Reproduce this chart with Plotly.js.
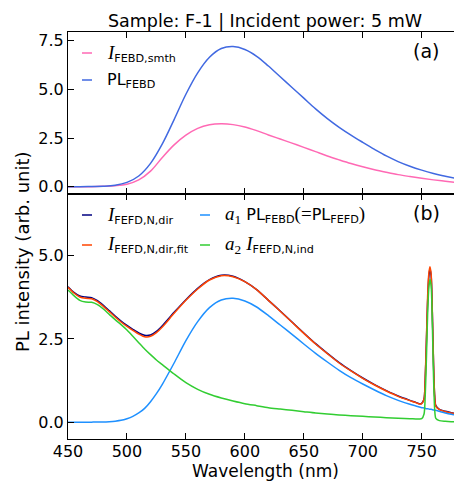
<!DOCTYPE html>
<html>
<head>
<meta charset="utf-8">
<script src="https://cdn.plot.ly/plotly-3.0.1.min.js"></script>
<style>html,body{margin:0;padding:0;background:#fff;}</style>
</head>
<body>
<div id="chart" style="width:454px;height:481px;"></div>
<script>
// ---- Panel (a) data ----
const wlA = [450,460,470,480,490,500,510,520,530,540,550,560,570,580,590,600,610,620,630,640,650,660,670,680,690,700,710,720,730,740,750,760,770,780];
const plFEBD = [0.0,0.0,0.01,0.02,0.07,0.22,0.55,1.2,2.2,3.45,4.75,5.85,6.65,7.1,7.2,7.05,6.7,6.2,5.65,5.1,4.55,4.0,3.5,3.05,2.65,2.28,1.92,1.58,1.29,1.05,0.85,0.68,0.54,0.41];
const iFEBDsmth = [0.0,0.0,0.0,0.02,0.05,0.13,0.35,0.8,1.5,2.15,2.65,3.0,3.18,3.23,3.19,3.07,2.88,2.66,2.45,2.24,2.02,1.8,1.58,1.38,1.19,1.02,0.87,0.74,0.62,0.52,0.43,0.35,0.28,0.21];

// ---- Panel (b) data ----
const wlB = [450,455,460,465,470,475,480,485,490,495,500,505,510,515,520,525,530,540,550,560,570,580,590,600,610,620,630,640,650,660,670,680,690,700,710,720,730,740,745,748,750,752,753,754,755,756,757,758,759,760,761,762,765,770,775,780];
const iDir = [4.07,3.90,3.79,3.76,3.74,3.65,3.51,3.35,3.19,3.04,2.91,2.79,2.68,2.61,2.62,2.73,2.90,3.30,3.68,4.02,4.28,4.41,4.38,4.22,3.98,3.66,3.34,3.01,2.68,2.36,2.07,1.79,1.55,1.33,1.13,0.95,0.79,0.66,0.60,0.56,0.57,0.70,1.30,2.40,3.60,4.35,4.60,4.40,3.30,1.80,0.80,0.50,0.39,0.33,0.29,0.25];
const iDirFit = [4.05,3.88,3.76,3.72,3.71,3.62,3.48,3.32,3.16,3.01,2.88,2.76,2.65,2.57,2.58,2.69,2.86,3.27,3.66,4.00,4.27,4.40,4.37,4.22,3.98,3.66,3.33,3.00,2.67,2.35,2.06,1.78,1.54,1.32,1.12,0.94,0.78,0.65,0.59,0.55,0.56,0.70,1.35,2.50,3.75,4.45,4.67,4.45,3.35,1.85,0.80,0.48,0.38,0.32,0.28,0.24];
const a1PL = [0,0,0,0,0.005,0.01,0.01,0.02,0.035,0.06,0.11,0.18,0.28,0.42,0.62,0.86,1.14,1.78,2.45,3.02,3.44,3.67,3.72,3.64,3.46,3.2,2.92,2.64,2.35,2.07,1.81,1.56,1.34,1.15,0.97,0.80,0.66,0.54,0.49,0.46,0.44,0.43,0.42,0.41,0.41,0.40,0.39,0.39,0.38,0.37,0.36,0.36,0.33,0.28,0.24,0.21];
const a2Ind = [3.97,3.80,3.66,3.61,3.60,3.53,3.40,3.24,3.08,2.93,2.77,2.58,2.39,2.20,2.03,1.87,1.73,1.45,1.19,0.99,0.84,0.73,0.64,0.56,0.50,0.44,0.40,0.36,0.32,0.28,0.25,0.22,0.20,0.18,0.16,0.14,0.12,0.11,0.10,0.10,0.11,0.25,0.8,1.9,3.2,4.0,4.29,4.1,3.0,1.4,0.4,0.12,0.05,0.03,0.02,0.02];

const xTicks = [450,500,550,600,650,700,750];
const yTicksA = [0,2.5,5,7.5];
const yTicksB = [0,2.5,5];

const FONT = 'DejaVu Sans';
const SERIF = 'Liberation Serif';
const lw = 1.5;

function tr(x, y, color, ax, sm) {
  return {x: x, y: y, type: 'scatter', mode: 'lines',
          line: {color: color, width: lw, shape: 'spline', smoothing: sm},
          xaxis: ax[0], yaxis: ax[1], showlegend: false, hoverinfo: 'skip'};
}

const data = [
  tr(wlA, iFEBDsmth, 'hotpink', ['x2','y2'], 1),
  tr(wlA, plFEBD, 'royalblue', ['x2','y2'], 1),
  tr(wlB, iDir, 'navy', ['x','y'], 0.7),
  tr(wlB, iDirFit, 'orangered', ['x','y'], 0.7),
  tr(wlB, a1PL, 'dodgerblue', ['x','y'], 0.7),
  tr(wlB, a2Ind, 'limegreen', ['x','y'], 0.7)
];

// pixel helpers (plot area: x 68..454, y 32..439)
const L = 68, T = 32, W = 386, H = 407;
const px = p => (p - L) / W;
const py = p => (T + H - p) / H;

const axCommon = {
  showgrid: false, zeroline: false, showline: true, linecolor: 'black', linewidth: 1,
  ticks: 'inside', ticklen: 6, tickwidth: 1, tickcolor: 'black',
  tickfont: {family: FONT, size: 16, color: 'black'}
};

const I = s => '<span style="font-family:' + SERIF + ';font-size:19px"><i>' + s + '</i></span>';
const legendItems = [
  {x: 82, y: 53, text: I('I') + '<sub>FEBD,smth</sub>', color: 'hotpink'},
  {x: 82, y: 80, text: 'PL<sub>FEBD</sub>', color: 'royalblue'},
  {x: 82, y: 215, text: I('I') + '<sub>FEFD,N,dir</sub>', color: 'navy'},
  {x: 82, y: 245, text: I('I') + '<sub>FEFD,N,dir,fit</sub>', color: 'orangered'},
  {x: 200, y: 215, text: '<span style="font-family:' + SERIF + ';font-size:19px"><i>a</i><sub>1</sub></span> PL<sub>FEBD</sub><span style="font-family:' + SERIF + ';font-size:19px">(=</span>PL<sub>FEFD</sub><span style="font-family:' + SERIF + ';font-size:19px">)</span>', color: 'dodgerblue'},
  {x: 200, y: 245, text: '<span style="font-family:' + SERIF + ';font-size:19px"><i>a</i><sub>2</sub></span> ' + I('I') + '<sub>FEFD,N,ind</sub>', color: 'limegreen'}
];

const annotations = [
  {xref: 'paper', yref: 'paper', x: px(426), y: py(51), text: '(a)', showarrow: false,
   xanchor: 'center', yanchor: 'middle', font: {family: FONT, size: 19, color: 'black'}},
  {xref: 'paper', yref: 'paper', x: px(426), y: py(213), text: '(b)', showarrow: false,
   xanchor: 'center', yanchor: 'middle', font: {family: FONT, size: 19, color: 'black'}},
  {xref: 'paper', yref: 'paper', x: px(22), y: py(252), text: 'PL intensity (arb. unit)', textangle: -90,
   showarrow: false, xanchor: 'center', yanchor: 'middle', font: {family: FONT, size: 18, color: 'black'}},
  {xref: 'paper', yref: 'paper', x: px(265), y: py(471), text: 'Wavelength (nm)', showarrow: false,
   xanchor: 'center', yanchor: 'middle', borderpad: 0, font: {family: FONT, size: 17, color: 'black'}}
];
const shapes = [];
legendItems.forEach(it => {
  annotations.push({xref: 'paper', yref: 'paper', x: px(it.x + 23), y: py(it.y), text: it.text,
    showarrow: false, xanchor: 'left', yanchor: 'middle', font: {family: FONT, size: 16, color: 'black'}});
  shapes.push({type: 'line', xref: 'paper', yref: 'paper', x0: px(it.x), x1: px(it.x + 10),
    y0: py(it.y), y1: py(it.y), line: {color: it.color, width: lw}});
});

const layout = {
  width: 454, height: 481,
  margin: {l: L, r: 0, t: T, b: 481 - T - H, pad: 0},
  paper_bgcolor: 'white', plot_bgcolor: 'white',
  showlegend: false,
  font: {family: FONT, size: 16, color: 'black'},
  title: {text: 'Sample: F-1 | Incident power: 5 mW', font: {family: FONT, size: 17.5, color: 'black'},
          xref: 'paper', x: px(265), xanchor: 'center', yref: 'container', y: 1 - 21 / 481, yanchor: 'middle'},
  xaxis: Object.assign({}, axCommon, {domain: [0, 1], anchor: 'y', range: [450, 777.4], tickvals: xTicks,
          mirror: 'ticks', ticklabelstandoff: -2}),
  xaxis2: Object.assign({}, axCommon, {domain: [0, 1], anchor: 'y2', matches: 'x', range: [450, 777.4], tickvals: xTicks,
          mirror: 'ticks', showticklabels: false}),
  yaxis: Object.assign({}, axCommon, {domain: [0, 0.602], anchor: 'x', range: [-0.5, 6.85], tickvals: yTicksB,
          ticktext: ['0.0', '2.5', '5.0']}),
  yaxis2: Object.assign({}, axCommon, {domain: [0.602, 1], anchor: 'x2', range: [-0.375, 7.95], tickvals: yTicksA,
          ticktext: ['0.0', '2.5', '5.0', '7.5']}),
  annotations: annotations,
  shapes: shapes
};

Plotly.newPlot('chart', data, layout, {displayModeBar: false, staticPlot: true});
</script>
</body>
</html>
